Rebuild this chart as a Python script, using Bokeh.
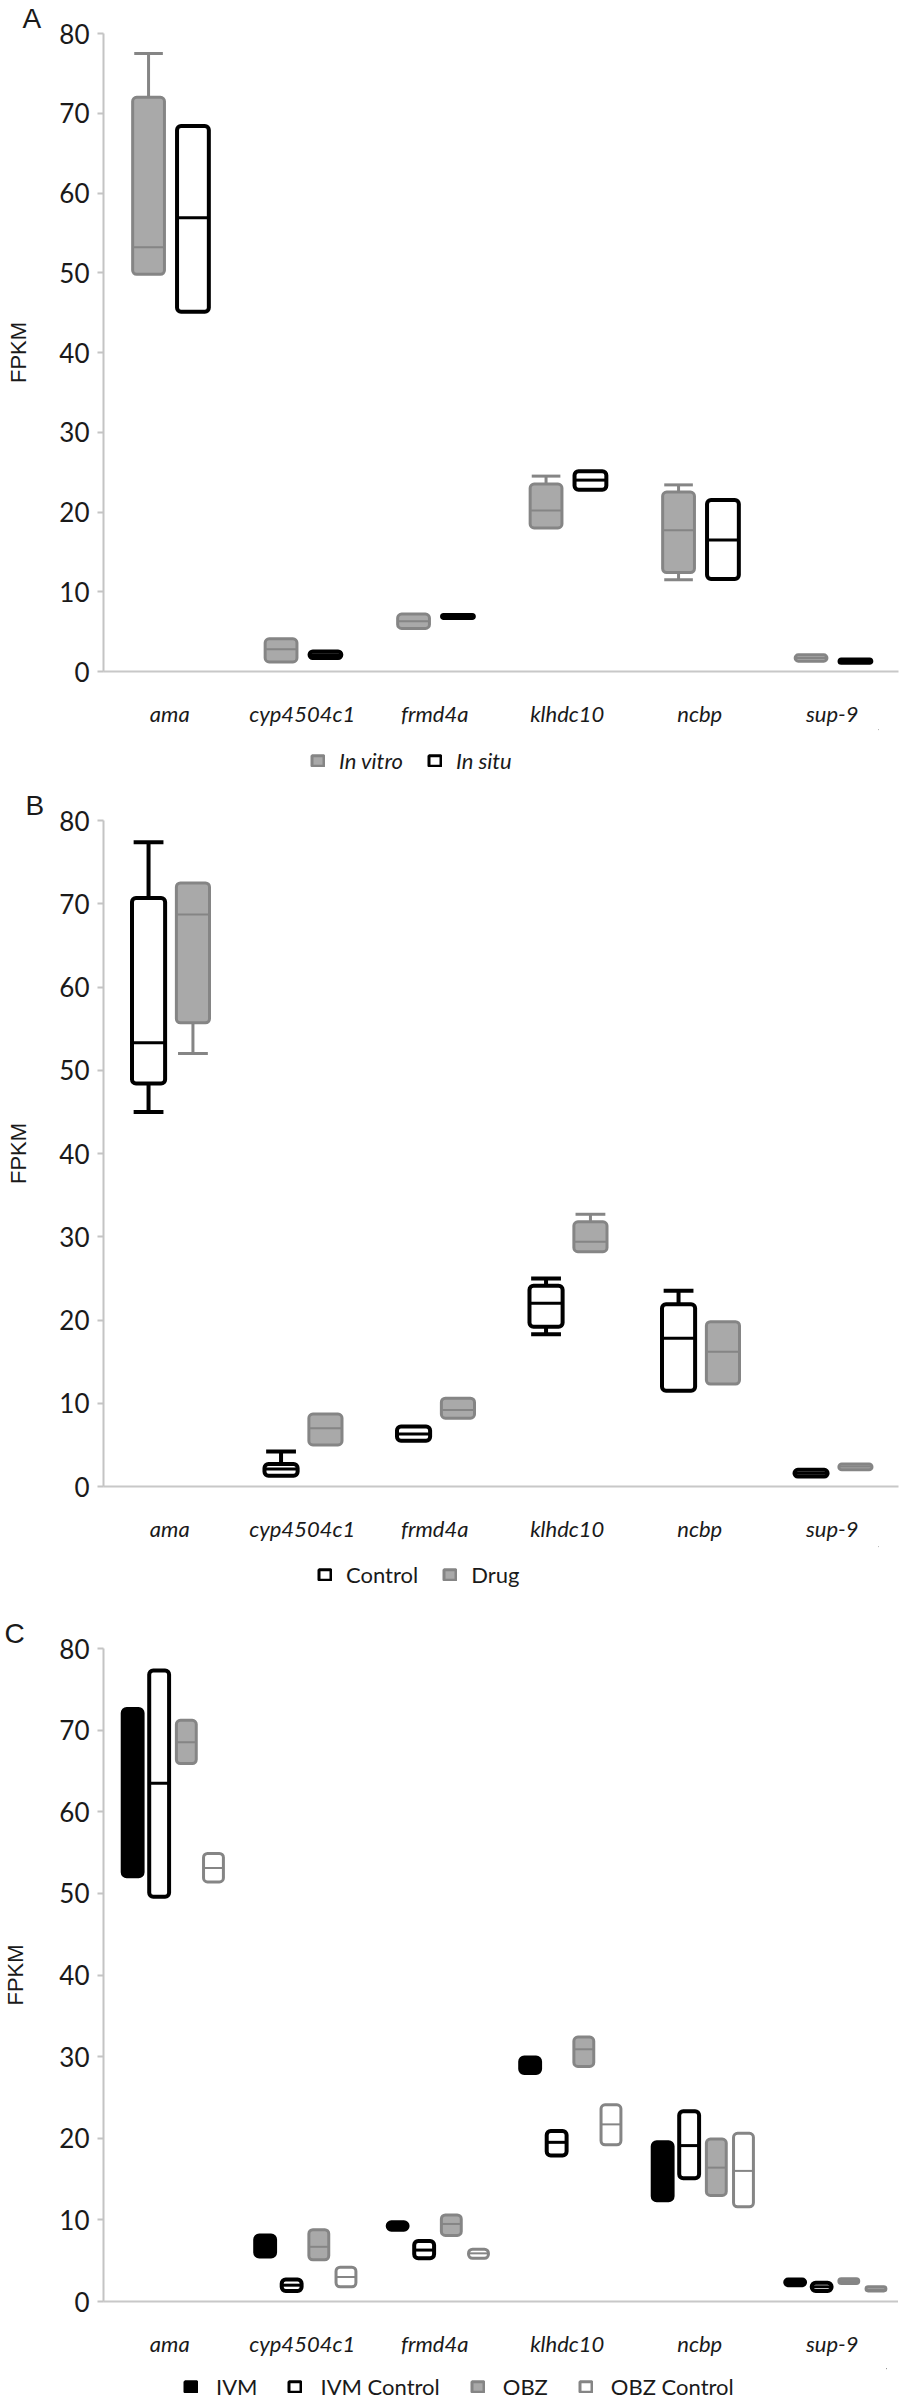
from bokeh.plotting import figure
from bokeh.models import (FactorRange, Range1d, Legend, LegendItem,
                          ColumnDataSource, FixedTicker)
from bokeh.transform import dodge
from bokeh.layouts import column
from bokeh.embed import file_html
from bokeh.resources import INLINE

genes = ["ama", "cyp4504c1", "frmd4a", "klhdc10", "ncbp", "sup-9"]
y_ticks = [0, 10, 20, 30, 40, 50, 60, 70, 80]

# ---- Panel A : In vitro vs In situ ----
a_vitro_min = [49.8, 1.2, 5.4, 18.0, 11.5, 1.3]
a_vitro_q1 = [49.8, 1.2, 5.4, 18.0, 12.4, 1.3]
a_vitro_med = [53.2, 2.8, 6.3, 20.2, 17.7, 1.7]
a_vitro_q3 = [72.0, 4.1, 7.2, 23.5, 22.5, 2.1]
a_vitro_max = [77.5, 4.1, 7.2, 24.5, 23.4, 2.1]

a_situ_min = [45.1, 1.7, 6.7, 22.8, 11.6, 1.1]
a_situ_q1 = [45.1, 1.7, 6.7, 22.8, 11.6, 1.1]
a_situ_med = [56.9, 2.1, 6.9, 24.0, 16.5, 1.3]
a_situ_q3 = [68.4, 2.5, 7.1, 25.1, 21.5, 1.5]
a_situ_max = [68.4, 2.5, 7.1, 25.1, 21.5, 1.5]

# ---- Panel B : Control vs Drug ----
b_ctrl_min = [45.0, 1.3, 5.5, 18.3, 11.5, 1.2]
b_ctrl_q1 = [48.4, 1.3, 5.5, 19.2, 11.5, 1.2]
b_ctrl_med = [53.3, 2.1, 6.3, 22.0, 17.8, 1.6]
b_ctrl_q3 = [70.7, 2.7, 7.2, 24.1, 21.9, 2.0]
b_ctrl_max = [77.4, 4.2, 7.2, 25.0, 23.5, 2.0]

b_drug_min = [52.0, 5.0, 8.2, 28.2, 12.3, 2.0]
b_drug_q1 = [55.7, 5.0, 8.2, 28.2, 12.3, 2.0]
b_drug_med = [68.7, 7.0, 9.2, 29.4, 16.2, 2.4]
b_drug_q3 = [72.5, 8.7, 10.6, 31.8, 19.8, 2.7]
b_drug_max = [72.5, 8.7, 10.6, 32.7, 19.8, 2.7]

# ---- Panel C : IVM / IVM Control / OBZ / OBZ Control ----
c_ivm_q1 = [52.1, 5.5, 8.8, 28.0, 12.4, 2.0]
c_ivm_med = [62.0, 6.8, 9.2, 29.0, 16.0, 2.3]
c_ivm_q3 = [72.6, 8.1, 9.7, 29.9, 19.5, 2.7]

c_ivmc_q1 = [49.6, 1.3, 5.3, 17.9, 15.1, 1.3]
c_ivmc_med = [63.5, 2.0, 6.3, 19.5, 19.1, 1.8]
c_ivmc_q3 = [77.3, 2.7, 7.4, 20.9, 23.3, 2.3]

c_obz_q1 = [65.9, 5.1, 8.1, 28.8, 13.0, 2.2]
c_obz_med = [68.5, 6.7, 9.5, 30.9, 16.4, 2.5]
c_obz_q3 = [71.2, 8.8, 10.6, 32.4, 19.9, 2.8]

c_obzc_q1 = [51.4, 1.8, 5.3, 19.2, 11.6, 1.3]
c_obzc_med = [53.1, 3.0, 5.9, 21.7, 16.0, 1.5]
c_obzc_q3 = [54.9, 4.2, 6.4, 24.1, 20.6, 1.8]

GREY_FILL = "#a9a9a9"
GREY_LINE = "#858585"
TICK_FONT = "Lato"
TEXT = "#1a1a1a"


def make_fig(letter, letter_off, frame_h, border_top, border_bottom, border_left,
             border_right, label_standoff):
    p = figure(x_range=FactorRange(*genes, range_padding=0), y_range=Range1d(0, 80),
               frame_width=795, frame_height=frame_h,
               output_backend="svg", toolbar_location=None,
               min_border_top=border_top, min_border_bottom=border_bottom,
               min_border_left=border_left, min_border_right=border_right,
               background_fill_color="white", border_fill_color="white")
    p.title.text = letter
    p.title.align = "left"
    p.title.offset = letter_off
    p.title.standoff = 0
    p.title.text_font = "Liberation Sans"
    p.title.text_font_style = "normal"
    p.title.text_font_size = "28px"
    p.title.text_color = TEXT
    p.outline_line_color = None
    p.grid.visible = False
    p.yaxis.ticker = FixedTicker(ticks=y_ticks)
    p.yaxis.minor_tick_line_color = None
    p.yaxis.axis_line_color = "#c4c4c4"
    p.yaxis.axis_line_width = 2
    p.yaxis.major_tick_line_color = "#c4c4c4"
    p.yaxis.major_tick_line_width = 2
    p.yaxis.major_tick_out = 6
    p.yaxis.major_tick_in = 0
    p.yaxis.major_label_standoff = 8
    p.yaxis.major_label_text_font = TICK_FONT
    p.yaxis.major_label_text_font_size = "26px"
    p.yaxis.major_label_text_color = TEXT
    p.yaxis.axis_label = "FPKM"
    p.yaxis.axis_label_text_font = "Liberation Sans"
    p.yaxis.axis_label_text_font_style = "normal"
    p.yaxis.axis_label_text_font_size = "22px"
    p.yaxis.axis_label_text_color = TEXT
    p.yaxis.axis_label_standoff = label_standoff
    p.xaxis.axis_line_color = "#c8c8c8"
    p.xaxis.axis_line_width = 2
    p.xaxis.major_tick_line_color = None
    p.xaxis.minor_tick_line_color = None
    p.xaxis.major_label_text_font = TICK_FONT
    p.xaxis.major_label_text_font_style = "italic"
    p.xaxis.major_label_text_font_size = "22px"
    p.xaxis.major_label_text_color = TEXT
    p.xaxis.major_label_standoff = 22
    return p


def add_series(p, q1, med, q3, lo, hi, off, bw, fill, line, lw, medc):
    x = dodge("gene", off, range=p.x_range)
    xl = dodge("gene", off - bw * 0.45, range=p.x_range)
    xr = dodge("gene", off + bw * 0.45, range=p.x_range)
    n = len(genes)
    up = [i for i in range(n) if hi[i] > q3[i] + 0.05]
    dn = [i for i in range(n) if lo[i] < q1[i] - 0.05]
    for idx, a, b in ((up, q3, hi), (dn, q1, lo)):
        if idx:
            s = ColumnDataSource(dict(gene=[genes[i] for i in idx],
                                      a=[a[i] for i in idx], b=[b[i] for i in idx]))
            p.segment(x0=x, y0="a", x1=x, y1="b", source=s, line_color=line, line_width=lw)
            p.segment(x0=xl, y0="b", x1=xr, y1="b", source=s, line_color=line, line_width=lw)
    src = ColumnDataSource(dict(gene=genes, q1=q1, med=med, q3=q3))
    p.vbar(x=x, width=bw, bottom="q1", top="q3", source=src,
           fill_color=fill, line_color=line, line_width=lw, border_radius=4)
    xml = dodge("gene", off - bw * 0.47, range=p.x_range)
    xmr = dodge("gene", off + bw * 0.47, range=p.x_range)
    p.segment(x0=xml, y0="med", x1=xmr, y1="med", source=src,
              line_color=medc, line_width=max(2, lw - 1))


def legend_fig(width, height, spec, x_left, italic, standoff=14, spacing=24):
    f = figure(width=width, height=height, x_range=Range1d(0, 1), y_range=Range1d(0, 1),
               output_backend="svg", toolbar_location=None, min_border=0,
               x_axis_type=None, y_axis_type=None,
               background_fill_color="white", border_fill_color="white")
    f.outline_line_color = None
    f.grid.visible = False
    items = []
    for label, fill, line, lw in spec:
        # legend swatch only: the bar itself lies outside the visible range
        r = f.vbar(x=[5.0], top=[5.0], bottom=[4.0], width=0.1, fill_color=fill,
                   line_color=line, line_width=lw, border_radius=3)
        items.append(LegendItem(label=label, renderers=[r]))
    leg_h = 31
    lg = Legend(items=items, orientation="horizontal",
                location=(x_left, (height - leg_h) / 2),
                border_line_color=None, background_fill_alpha=0,
                label_text_font=TICK_FONT, label_text_font_size="22px",
                label_text_font_style="italic" if italic else "normal",
                label_text_color=TEXT, glyph_width=15, glyph_height=13,
                label_standoff=standoff, spacing=spacing, padding=2, margin=0)
    f.add_layout(lg, "center")
    return f


# Panel A
pa = make_fig("A", -81, 638, 12, 57, 83, 9, 25)
add_series(pa, a_vitro_q1, a_vitro_med, a_vitro_q3, a_vitro_min, a_vitro_max,
           -0.16, 0.24, GREY_FILL, GREY_LINE, 3, GREY_LINE)
add_series(pa, a_situ_q1, a_situ_med, a_situ_q3, a_situ_min, a_situ_max,
           0.175, 0.24, "white", "black", 4, "black")
la = legend_fig(887, 58, [("In vitro", GREY_FILL, GREY_LINE, 3),
                          ("In situ", "white", "black", 3)], 207, True)

# Panel B
pb = make_fig("B", -78, 666, 24, 60, 83, 9, 25)
add_series(pb, b_ctrl_q1, b_ctrl_med, b_ctrl_q3, b_ctrl_min, b_ctrl_max,
           -0.16, 0.25, "white", "black", 4, "black")
add_series(pb, b_drug_q1, b_drug_med, b_drug_q3, b_drug_min, b_drug_max,
           0.175, 0.25, GREY_FILL, GREY_LINE, 3, GREY_LINE)
lb = legend_fig(887, 52, [("Control", "white", "black", 3),
                          ("Drug", GREY_FILL, GREY_LINE, 3)], 214, False)

# Panel C
pc = make_fig("C", -99, 653, 50, 67, 100, 0, 28)
bw = 0.15
add_series(pc, c_ivm_q1, c_ivm_med, c_ivm_q3, c_ivm_q1, c_ivm_q3,
           -0.28, bw, "black", "black", 4, "black")
add_series(pc, c_ivmc_q1, c_ivmc_med, c_ivmc_q3, c_ivmc_q1, c_ivmc_q3,
           -0.08, bw, "white", "black", 4, "black")
add_series(pc, c_obz_q1, c_obz_med, c_obz_q3, c_obz_q1, c_obz_q3,
           0.125, bw, GREY_FILL, GREY_LINE, 3, GREY_LINE)
add_series(pc, c_obzc_q1, c_obzc_med, c_obzc_q3, c_obzc_q1, c_obzc_q3,
           0.33, bw, "white", GREY_LINE, 3, GREY_LINE)
lc = legend_fig(895, 33, [("IVM", "black", "black", 3),
                          ("IVM Control", "white", "black", 3),
                          ("OBZ", GREY_FILL, GREY_LINE, 3),
                          ("OBZ Control", "white", GREY_LINE, 3)], 80, False,
                standoff=18, spacing=30)

layout = column(pa, la, pb, lb, pc, lc, spacing=0)
open("out.html", "w").write(file_html(layout, INLINE))
